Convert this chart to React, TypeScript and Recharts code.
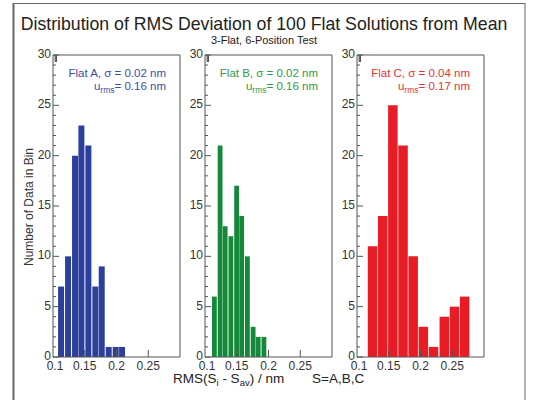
import React from "react";
import { BarChart, Bar, XAxis, YAxis } from "recharts";

// bin centres (nm) and counts
const BIN_A = [0.113, 0.124, 0.135, 0.145, 0.156, 0.167, 0.177, 0.188, 0.199, 0.209];
const COUNT_A = [7, 10, 20, 23, 21, 7, 9, 1, 1, 1];
const BIN_B = [0.115, 0.124, 0.132, 0.141, 0.15, 0.158, 0.167, 0.176, 0.184, 0.193];
const COUNT_B = [6, 21, 13, 12, 17, 14, 10, 3, 2, 2];
const BIN_C = [0.125, 0.141, 0.157, 0.173, 0.189, 0.205, 0.221, 0.238, 0.254, 0.27];
const COUNT_C = [11, 14, 25, 21, 10, 3, 1, 4, 5, 6];

const X_TICKS = [0.1, 0.15, 0.2, 0.25];
const Y_TICKS = [
  0, 1, 2, 3, 4, 5, 6, 7, 8, 9, 10, 11, 12, 13, 14, 15, 16, 17, 18, 19, 20, 21, 22, 23,
  24, 25, 26, 27, 28, 29, 30,
];

const FONT = "'Liberation Sans', Arial, sans-serif";
const AXIS = "#555";
const PLOT_W = 127;
const PLOT_H = 302;
const PLOT_TOP = 55;

const LeftTick = (props: any) => {
  const { x, y, payload } = props;
  const major = payload.value % 5 === 0;
  return (
    <g>
      <line x1={x} x2={x + (major ? 6 : 3)} y1={y} y2={y} stroke={AXIS} />
      {major && (
        <text x={x - 2} y={y} dy={3} textAnchor="end" fontSize={12} fill="#333" fontFamily={FONT}>
          {payload.value}
        </text>
      )}
    </g>
  );
};

const RightTick = (props: any) => {
  const { x, y, payload } = props;
  const major = payload.value % 5 === 0;
  return <line x1={x} x2={x - (major ? 6 : 3)} y1={y} y2={y} stroke={AXIS} />;
};

const BottomTick = (props: any) => {
  const { x, y, payload } = props;
  const first = payload.value === 0.1;
  return (
    <g>
      {!first && <line x1={x} x2={x} y1={y} y2={y - 7} stroke={AXIS} />}
      <text x={x + (first ? 2 : 0)} y={y} dy={13} textAnchor="middle" fontSize={12} fill="#333" fontFamily={FONT}>
        {String(payload.value)}
      </text>
    </g>
  );
};

const TopTick = (props: any) => {
  const { x, y, payload } = props;
  if (payload.value === 0.1) return <g />;
  return <line x1={x} x2={x} y1={y} y2={y + 7} stroke={AXIS} />;
};

interface PanelProps {
  bins: number[];
  counts: number[];
  color: string;
  barSize: number;
  left: number;
}

function Panel({ bins, counts, color, barSize, left }: PanelProps) {
  const data = bins.map((b, i) => ({ x: b, n: counts[i] }));
  return (
    <div style={{ position: "absolute", left: left - 45, top: PLOT_TOP - 10 }}>
      <BarChart
        width={45 + PLOT_W + 10}
        height={10 + PLOT_H + 20}
        data={data}
        margin={{ top: 9, right: 9, bottom: 0, left: 0 }}
        barCategoryGap={0}
      >
        <XAxis
          dataKey="x"
          type="number"
          domain={[0.1, 0.3]}
          allowDataOverflow
          ticks={X_TICKS}
          interval={0}
          height={20}
          tickSize={0}
          tickMargin={0}
          tickLine={false}
          axisLine={{ stroke: AXIS }}
          tick={BottomTick}
        />
        <XAxis
          xAxisId="top"
          orientation="top"
          type="number"
          domain={[0.1, 0.3]}
          allowDataOverflow
          ticks={X_TICKS}
          interval={0}
          height={1}
          tickSize={0}
          tickMargin={0}
          tickLine={false}
          axisLine={{ stroke: AXIS }}
          tick={TopTick}
        />
        <YAxis
          domain={[0, 30]}
          ticks={Y_TICKS}
          interval={0}
          width={45}
          tickSize={0}
          tickMargin={0}
          tickLine={false}
          axisLine={{ stroke: AXIS }}
          tick={LeftTick}
        />
        <YAxis
          yAxisId="right"
          orientation="right"
          domain={[0, 30]}
          ticks={Y_TICKS}
          interval={0}
          width={1}
          tickSize={0}
          tickMargin={0}
          tickLine={false}
          axisLine={{ stroke: AXIS }}
          tick={RightTick}
        />
        <Bar dataKey="n" fill={color} barSize={barSize} isAnimationActive={false} />
      </BarChart>
    </div>
  );
}

function Note({ right, color, sigma, urms }: { right: number; color: string; sigma: string; urms: string }) {
  return (
    <g fill={color} fontSize={11.5} fontFamily={FONT} textAnchor="end">
      <text x={right} y={77}>{`Flat ${sigma}`}</text>
      <text x={right} y={90}>
        u<tspan dy={3} fontSize={8.5}>rms</tspan>
        <tspan dy={-3}>{urms}</tspan>
      </text>
    </g>
  );
}

export default function App() {
  return (
    <div
      style={{
        position: "absolute",
        left: 0,
        top: 0,
        width: 533,
        height: 400,
        background: "#fff",
        fontFamily: FONT,
      }}
    >
      <Panel bins={BIN_A} counts={COUNT_A} color="#2b3f9c" barSize={6} left={53} />
      <Panel bins={BIN_B} counts={COUNT_B} color="#14893a" barSize={4.8} left={205} />
      <Panel bins={BIN_C} counts={COUNT_C} color="#e81c25" barSize={9.5} left={357} />
      <svg
        width={533}
        height={400}
        style={{ position: "absolute", left: 0, top: 0, pointerEvents: "none" }}
      >
        <line x1={13.5} x2={13.5} y1={3} y2={400} stroke="#666" strokeWidth={2} />
        <line x1={13} x2={525} y1={3.5} y2={3.5} stroke="#666" />
        <line x1={525} x2={525} y1={3} y2={400} stroke="#666" />
        <text x={264} y={30} textAnchor="middle" fontSize={17.7} fill="#222" fontFamily={FONT}>
          Distribution of RMS Deviation of 100 Flat Solutions from Mean
        </text>
        <text x={264} y={44} textAnchor="middle" fontSize={11} fill="#222" fontFamily={FONT}>
          3-Flat, 6-Position Test
        </text>
        <text
          x={0}
          y={0}
          transform="translate(33, 207) rotate(-90)"
          textAnchor="middle"
          fontSize={12}
          fill="#333"
          fontFamily={FONT}
        >
          Number of Data in Bin
        </text>
        <text x={173} y={383} fontSize={13.5} fill="#222" fontFamily={FONT}>
          RMS(S<tspan dy={3} fontSize={9.5}>i</tspan>
          <tspan dy={-3}> - S</tspan>
          <tspan dy={3} fontSize={9.5}>av</tspan>
          <tspan dy={-3}>) / nm</tspan>
        </text>
        <text x={312} y={383} fontSize={13.5} fill="#222" fontFamily={FONT}>
          S=A,B,C
        </text>
        <Note right={166} color="#3b4ea3" sigma="A, σ = 0.02 nm" urms="= 0.16 nm" />
        <Note right={318} color="#2f9a4c" sigma="B, σ = 0.02 nm" urms="= 0.16 nm" />
        <Note right={470} color="#e5333a" sigma="C, σ = 0.04 nm" urms="= 0.17 nm" />
      </svg>
    </div>
  );
}
